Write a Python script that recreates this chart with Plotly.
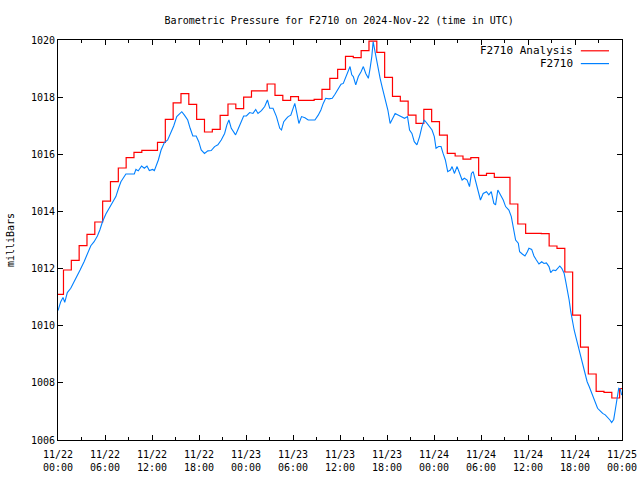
import pandas as pd
import plotly.graph_objects as go

START = pd.Timestamp("2024-11-22 00:00")

# Analysis (hourly step values); first value held from 00:00, then steps at hh:42
analysis_hours = [0.0] + [h + 0.7 for h in range(72)]
analysis_values = [
    1011.10,
    1011.95, 1012.29, 1012.80, 1013.20, 1013.63, 1014.36, 1015.04, 1015.52, 1015.88, 1016.07,
    1016.14, 1016.14, 1016.42, 1017.22, 1017.80, 1018.12, 1017.75, 1017.22, 1016.78, 1016.87,
    1017.36, 1017.76, 1017.60, 1018.00, 1018.22, 1018.22, 1018.46, 1018.06, 1017.89, 1018.02,
    1017.89, 1017.89, 1017.92, 1018.27, 1018.66, 1018.97, 1019.43, 1019.38, 1019.63, 1019.96,
    1019.57, 1018.69, 1018.03, 1017.86, 1017.37, 1017.08, 1017.57, 1017.14, 1016.67, 1016.03,
    1015.94, 1015.83, 1015.88, 1015.26, 1015.33, 1015.19, 1015.19, 1014.26, 1013.56, 1013.23,
    1013.23, 1013.22, 1012.79, 1012.71, 1011.88, 1010.37, 1009.25, 1008.31, 1007.70, 1007.67,
    1007.47, 1007.80,
]

# Observations: hours since 11/22 00:00 UTC and pressure (mb)
obs_hours = [
    0.00, 0.35, 0.64, 0.86, 1.19, 1.63, 2.05, 2.47, 2.82, 3.33, 3.75, 4.19, 4.61, 5.03, 5.34,
    5.68, 6.11, 6.53, 6.96, 7.39, 7.73, 8.03, 8.46, 8.67, 9.74, 9.95, 10.25, 10.67, 11.02, 11.36,
    11.66, 12.08, 12.30, 12.52, 12.81, 13.16, 13.58, 14.00, 14.44, 14.77, 15.16, 15.50, 15.80,
    16.14, 16.56, 16.87, 17.21, 17.64, 17.97, 18.28, 18.70, 19.13, 19.56, 19.99, 20.41, 20.84,
    21.27, 21.56, 21.82, 22.12, 22.42, 22.67, 22.97, 23.32, 23.70, 24.05, 24.47, 24.89, 25.24,
    25.53, 25.97, 26.39, 26.74, 27.03, 27.45, 27.89, 28.31, 28.53, 28.82, 29.17, 29.38, 29.72,
    30.02, 30.23, 30.45, 30.75, 31.09, 31.52, 31.94, 32.37, 32.80, 33.22, 33.56, 33.86, 34.17,
    34.59, 35.01, 35.36, 35.70, 36.13, 36.42, 36.73, 36.98, 37.28, 37.50, 37.70, 38.01, 38.34,
    38.69, 38.98, 39.29, 39.62, 39.84, 40.06, 40.23, 40.39, 40.57, 40.83, 41.12, 41.42, 41.76,
    42.11, 42.40, 42.70, 43.04, 43.47, 43.90, 44.24, 44.62, 44.88, 45.18, 45.48, 45.82, 46.16,
    46.46, 46.76, 47.11, 47.44, 47.75, 48.04, 48.26, 48.59, 48.90, 49.16, 49.45, 49.75, 50.09,
    50.31, 50.60, 50.95, 51.28, 51.59, 51.88, 52.23, 52.53, 52.78, 53.00, 53.29, 53.59, 53.93,
    54.28, 54.70, 55.00, 55.31, 55.64, 55.86, 56.15, 56.50, 56.84, 57.14, 57.56, 57.87, 58.20,
    58.42, 58.76, 58.93, 59.27, 59.61, 59.92, 60.12, 60.47, 60.76, 61.07, 61.40, 61.75, 62.04,
    62.35, 62.68, 62.90, 63.20, 63.54, 63.76, 64.06, 64.31, 64.61, 64.82, 65.04, 65.25, 65.46,
    65.68, 65.89, 66.10, 66.36, 66.62, 66.87, 67.09, 67.29, 67.55, 67.81, 68.06, 68.32, 68.58,
    68.88, 69.18, 69.53, 69.86, 70.17, 70.46, 70.68, 70.94, 71.14, 71.36, 71.58, 71.78, 71.96,
]
obs_values = [
    1010.53, 1010.84, 1010.99, 1010.82, 1011.16, 1011.31, 1011.54, 1011.74, 1011.95, 1012.24,
    1012.53, 1012.80, 1012.94, 1013.14, 1013.35, 1013.64, 1013.91, 1014.11, 1014.34, 1014.52,
    1014.81, 1015.04, 1015.22, 1015.31, 1015.31, 1015.47, 1015.42, 1015.59, 1015.51, 1015.59,
    1015.43, 1015.47, 1015.43, 1015.57, 1015.80, 1016.15, 1016.41, 1016.50, 1016.79, 1016.99,
    1017.32, 1017.43, 1017.49, 1017.37, 1017.20, 1016.91, 1016.64, 1016.64, 1016.44, 1016.15,
    1016.03, 1016.12, 1016.13, 1016.27, 1016.33, 1016.50, 1016.73, 1017.03, 1017.20, 1016.91,
    1016.79, 1016.68, 1016.87, 1017.12, 1017.34, 1017.34, 1017.46, 1017.43, 1017.57, 1017.43,
    1017.53, 1017.67, 1017.90, 1017.61, 1017.61, 1017.32, 1016.91, 1016.85, 1017.14, 1017.26,
    1017.32, 1017.37, 1017.61, 1017.78, 1017.49, 1017.08, 1017.32, 1017.28, 1017.20, 1017.20,
    1017.20, 1017.37, 1017.55, 1017.78, 1017.96, 1017.94, 1017.96, 1018.10, 1018.25, 1018.45,
    1018.48, 1018.72, 1018.89, 1019.07, 1018.78, 1018.72, 1018.43, 1018.72, 1018.89, 1019.07,
    1018.83, 1018.66, 1019.01, 1019.42, 1019.94, 1019.71, 1019.36, 1019.01, 1018.66, 1018.31,
    1017.96, 1017.55, 1017.08, 1017.26, 1017.43, 1017.37, 1017.32, 1017.26, 1017.32, 1016.85,
    1016.73, 1016.44, 1016.33, 1016.62, 1016.97, 1017.20, 1017.08, 1016.97, 1016.85, 1016.62,
    1016.21, 1016.27, 1016.27, 1016.03, 1015.80, 1015.39, 1015.45, 1015.57, 1015.33, 1015.57,
    1015.33, 1015.10, 1015.16, 1015.10, 1014.87, 1015.33, 1015.39, 1015.10, 1014.75, 1014.40,
    1014.63, 1014.69, 1014.58, 1014.69, 1014.28, 1014.23, 1014.75, 1014.58, 1014.40, 1014.17,
    1014.05, 1013.82, 1013.35, 1013.00, 1012.89, 1012.59, 1012.51, 1012.44, 1012.59, 1012.71,
    1012.67, 1012.44, 1012.30, 1012.16, 1012.24, 1012.18, 1012.20, 1012.07, 1011.86, 1011.95,
    1011.93, 1012.01, 1012.09, 1012.01, 1011.84, 1011.54, 1011.25, 1010.90, 1010.49, 1010.09,
    1009.85, 1009.62, 1009.33, 1009.03, 1008.74, 1008.51, 1008.28, 1008.04, 1007.87, 1007.69,
    1007.49, 1007.31, 1007.11, 1007.03, 1006.93, 1006.88, 1006.80, 1006.70, 1006.61, 1006.72,
    1007.05, 1007.52, 1007.81, 1007.78, 1007.57,
]

series_names = ["F2710 Analysis", "F2710"]
series_colors = ["#ff0000", "#0080ff"]

ana_t = [START + pd.Timedelta(hours=h) for h in analysis_hours] + [START + pd.Timedelta(hours=72)]
ana_v = analysis_values + [analysis_values[-1]]
obs_t = [START + pd.Timedelta(hours=h) for h in obs_hours]

FONT = "DejaVu Sans Mono"

fig = go.Figure()
fig.add_trace(go.Scatter(x=ana_t, y=ana_v, mode="lines", line=dict(color=series_colors[0], width=1.2, shape="hv"),
                         name=series_names[0], showlegend=False))
fig.add_trace(go.Scatter(x=obs_t, y=obs_values, mode="lines", line=dict(color=series_colors[1], width=1.1),
                         name=series_names[1], showlegend=False))

# manual gnuplot-style legend (text right, sample line on right)
for i, (nm, col) in enumerate(zip(series_names, series_colors)):
    yy = 0.973 - i * 0.032
    fig.add_annotation(xref="paper", yref="paper", x=0.917, y=yy, text=nm, showarrow=False,
                       xanchor="right", yanchor="middle", font=dict(family=FONT, size=11, color="black"))
    fig.add_shape(type="line", xref="paper", yref="paper", x0=0.927, x1=0.977, y0=yy, y1=yy,
                  line=dict(color=col, width=1.2))

fig.update_layout(
    width=640, height=480,
    margin=dict(l=58, r=18, t=40, b=40, autoexpand=False),
    paper_bgcolor="white", plot_bgcolor="white",
    font=dict(family=FONT, size=10, color="black"),
    title=dict(text="Barometric Pressure for F2710 on 2024-Nov-22 (time in UTC)", x=0.53, xanchor="center",
               y=1 - 20 / 480, yref="container", yanchor="middle", font=dict(family=FONT, size=10)),
)
fig.update_xaxes(
    automargin=False,
    range=[START, START + pd.Timedelta(hours=72)],
    dtick=6 * 3600 * 1000, tick0=START, tickformat="%m/%d<br>%H:%M",
    ticks="inside", ticklen=5, tickcolor="black", showgrid=False, zeroline=False,
    showline=True, linecolor="black", linewidth=1, mirror="allticks",
    minor=dict(dtick=3 * 3600 * 1000, ticks="inside", ticklen=3, tickcolor="black", showgrid=False),
    tickfont=dict(family=FONT, size=10), ticklabelstandoff=5,
)
fig.update_yaxes(
    automargin=False,
    range=[1006, 1020], dtick=2, ticks="inside", ticklen=5, tickcolor="black",
    showgrid=False, zeroline=False, showline=True, linecolor="black", linewidth=1, mirror="allticks",
    title=dict(text="milliBars", font=dict(family=FONT, size=10), standoff=14),
    tickfont=dict(family=FONT, size=10),
)

fig.write_html("out.html", config={"displayModeBar": False},
               post_script="document.body.style.margin='0px';")
